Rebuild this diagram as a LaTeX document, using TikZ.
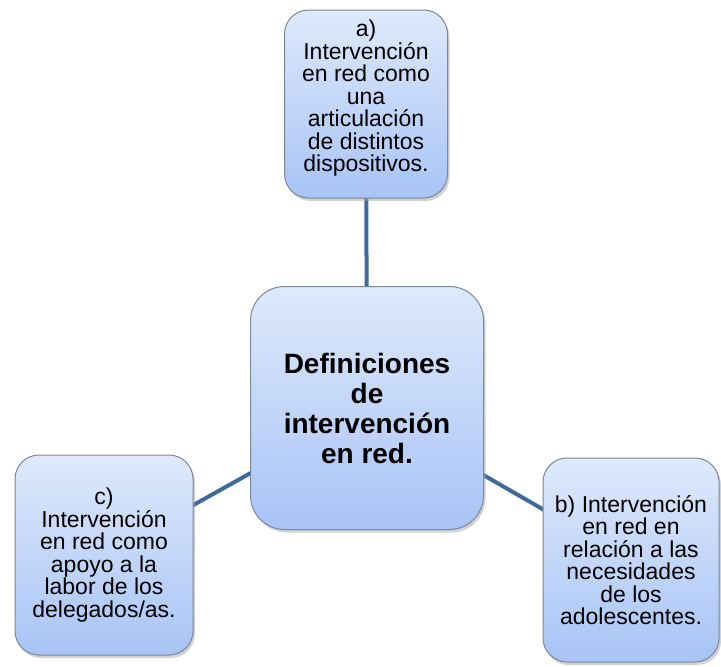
\documentclass[tikz,border=0pt]{standalone}
\usepackage{fontspec}
\setmainfont{Liberation Sans}
\usetikzlibrary{shadows}
\definecolor{linkblue}{HTML}{3E6A9C}
\definecolor{boxtop}{HTML}{DEE9FC}
\definecolor{boxbot}{HTML}{A8C4F6}
\definecolor{boxedge}{HTML}{7C8797}
\tikzset{
  box/.style={draw=boxedge, line width=1pt, rounded corners=24pt,
    top color=boxtop, bottom color=boxbot, align=center, inner sep=0pt,
    drop shadow={shadow xshift=2pt, shadow yshift=-3pt, fill=black!35, opacity=0.5},
    font=\fontsize{23}{22.5}\selectfont},
  link/.style={draw=linkblue, line width=4pt}
}
\begin{document}
\begin{tikzpicture}[x=1pt,y=-1pt]
\useasboundingbox (0,0) rectangle (721,667);
\coordinate (ac) at (366,104);
\coordinate (mc) at (367,408);
\coordinate (cc) at (104,555);
\coordinate (bc) at (631,560);
\draw[link] (ac) -- (mc);
\draw[link] (mc) -- (cc);
\draw[link] (mc) -- (bc);
\node[box, minimum width=163pt, minimum height=188pt] (a) at (ac)
  {a)\\Intervención\\en red como\\una\\articulación\\de distintos\\dispositivos.\\[-6pt]\mbox{}};
\node[box, minimum width=233pt, minimum height=243pt, rounded corners=34pt,
  font=\bfseries\fontsize{28}{30}\selectfont] (m) at (mc)
  {Definiciones\\de\\intervención\\en red.};
\node[box, minimum width=178pt, minimum height=200pt] (c) at (cc)
  {c)\\Intervención\\en red como\\apoyo a la\\labor de los\\delegados/as.};
\node[box, minimum width=176pt, minimum height=204pt] (b) at (bc)
  {b) Intervención\\en red en\\relación a las\\necesidades\\de los\\adolescentes.};
\end{tikzpicture}
\end{document}
